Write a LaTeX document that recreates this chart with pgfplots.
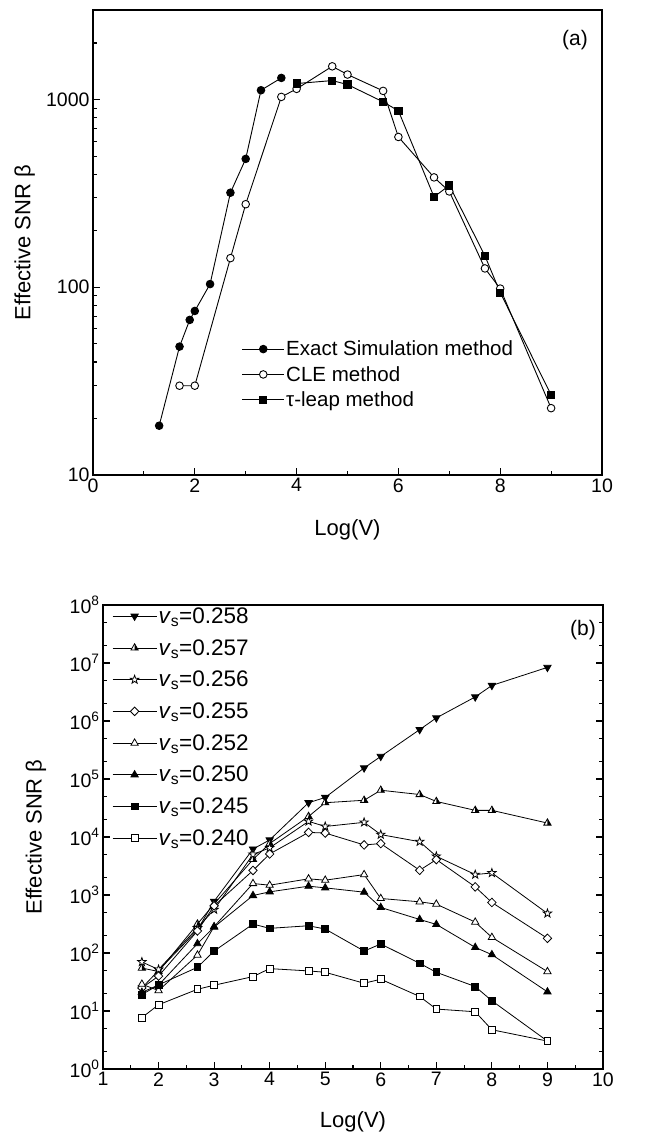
\documentclass[border=0pt]{standalone}
\usepackage{fontspec}
\setmainfont{Liberation Sans}
\usepackage{pgfplots}
\pgfplotsset{compat=1.18}

\pgfdeclareplotmark{ostar}{%
  \pgfpathmoveto{\pgfqpoint{0pt}{\pgfplotmarksize}}%
  \pgfpathlineto{\pgfqpoint{-0.235\pgfplotmarksize}{0.324\pgfplotmarksize}}%
  \pgfpathlineto{\pgfqpoint{-0.951\pgfplotmarksize}{0.309\pgfplotmarksize}}%
  \pgfpathlineto{\pgfqpoint{-0.380\pgfplotmarksize}{-0.124\pgfplotmarksize}}%
  \pgfpathlineto{\pgfqpoint{-0.588\pgfplotmarksize}{-0.809\pgfplotmarksize}}%
  \pgfpathlineto{\pgfqpoint{0pt}{-0.4\pgfplotmarksize}}%
  \pgfpathlineto{\pgfqpoint{0.588\pgfplotmarksize}{-0.809\pgfplotmarksize}}%
  \pgfpathlineto{\pgfqpoint{0.380\pgfplotmarksize}{-0.124\pgfplotmarksize}}%
  \pgfpathlineto{\pgfqpoint{0.951\pgfplotmarksize}{0.309\pgfplotmarksize}}%
  \pgfpathlineto{\pgfqpoint{0.235\pgfplotmarksize}{0.324\pgfplotmarksize}}%
  \pgfpathclose
  \pgfsetfillcolor{white}%
  \pgfusepathqfillstroke
}
\pgfdeclareplotmark{halftri}{%
  \pgfpathmoveto{\pgfqpoint{0pt}{\pgfplotmarksize}}%
  \pgfpathlineto{\pgfqpoint{-0.866\pgfplotmarksize}{-0.5\pgfplotmarksize}}%
  \pgfpathlineto{\pgfqpoint{0.866\pgfplotmarksize}{-0.5\pgfplotmarksize}}%
  \pgfpathclose
  \pgfsetfillcolor{white}%
  \pgfusepathqfillstroke
  \pgfpathmoveto{\pgfqpoint{0pt}{\pgfplotmarksize}}%
  \pgfpathlineto{\pgfqpoint{0pt}{-0.5\pgfplotmarksize}}%
  \pgfpathlineto{\pgfqpoint{0.866\pgfplotmarksize}{-0.5\pgfplotmarksize}}%
  \pgfpathclose
  \pgfsetfillcolor{black}%
  \pgfusepathqfill
}

\begin{document}
\begin{tikzpicture}
\useasboundingbox (0,0) rectangle (664pt,1140pt);

% ---------- panel (a) ----------
\begin{axis}[
  scale only axis, anchor=south west,
  at={(93pt,665pt)}, width=509pt, height=465pt,
  ymode=log,
  xmin=0, xmax=10, ymin=10, ymax=3000,
  axis line style={line width=1.5pt},
  every tick/.style={black, line width=1.1pt},
  major tick length=7pt, minor tick length=4pt,
  tick label style={font=\fontsize{19.5}{21}\selectfont},
  label style={font=\fontsize{22}{24}\selectfont},
  tick pos=left,
  xtick={0,2,4,6,8,10}, xticklabels={0,2,4,6,8,10},
  minor xtick={1,3,5,7,9},
  ytick={10,100,1000}, yticklabels={10,100,1000},
  minor ytick={20,30,40,50,60,70,80,90,200,300,400,500,600,700,800,900,2000,3000},
  xlabel={Log(V)}, ylabel={Effective SNR β},
  xlabel style={at={(axis description cs:0.5,-0.118)}, anchor=center},
  ylabel style={at={(axis description cs:-0.134,0.5)}, anchor=center},
  legend cell align=left,
  legend style={draw=none, fill=none, at={(0.292,0.292)}, anchor=north west,
    font=\fontsize{20.5}{22}\selectfont, row sep=6pt, inner sep=0pt,
    nodes={inner sep=1.5pt}},
  legend image code/.code={\draw[mark repeat=2,mark phase=2] plot coordinates {(0pt,0pt) (21pt,0pt) (42pt,0pt)};},
]
\addplot[black, line width=0.9pt, mark=*, mark size=3.8pt, mark options={fill=black}]
  coordinates {(1.3,18.3) (1.7,48.3) (1.9,67) (2.0,74.8) (2.3,104) (2.7,319) (3.0,483) (3.3,1121) (3.7,1304)};
\addlegendentry{Exact Simulation method}
\addplot[black, line width=0.9pt, mark=*, mark size=3.8pt, mark options={fill=white}]
  coordinates {(1.7,29.9) (2.0,29.9) (2.7,143) (3.0,277) (3.7,1033) (4.0,1140) (4.7,1503) (5.0,1359) (5.7,1112) (6.0,632) (6.7,385) (7.0,324) (7.7,126) (8.0,98.4) (9.0,22.7)};
\addlegendentry{CLE method}
\addplot[black, line width=0.9pt, mark=square*, mark size=3.6pt, mark options={fill=black}]
  coordinates {(4.0,1217) (4.7,1262) (5.0,1202) (5.7,972) (6.0,871) (6.7,303) (7.0,349) (7.7,147) (8.0,93.7) (9.0,26.7)};
\addlegendentry{τ-leap method}
\node[font=\fontsize{21}{23}\selectfont] at (axis description cs:0.947,0.935) {(a)};
\end{axis}

% ---------- panel (b) ----------
\begin{axis}[
  scale only axis, anchor=south west,
  at={(103pt,71pt)}, width=500pt, height=464pt,
  ymode=log,
  xmin=1, xmax=10, ymin=1, ymax=1e8,
  axis line style={line width=1.5pt},
  every tick/.style={black, line width=1.1pt},
  major tick length=7pt, minor tick length=4pt,
  tick label style={font=\fontsize{19.5}{21}\selectfont},
  label style={font=\fontsize{22}{24}\selectfont},
  xtick pos=left, ytick pos=both,
  xtick={1,2,3,4,5,6,7,8,9,10}, xticklabels={1,2,3,4,5,6,7,8,9,10},
  minor xtick={1.5,2.5,3.5,4.5,5.5,6.5,7.5,8.5,9.5},
  ytick={1,10,100,1e3,1e4,1e5,1e6,1e7,1e8},
  yticklabels={\mbox{10\textsuperscript{0}},\mbox{10\textsuperscript{1}},\mbox{10\textsuperscript{2}},\mbox{10\textsuperscript{3}},\mbox{10\textsuperscript{4}},\mbox{10\textsuperscript{5}},\mbox{10\textsuperscript{6}},\mbox{10\textsuperscript{7}},\mbox{10\textsuperscript{8}}},
  minor ytick={2,5,20,50,200,500,2e3,5e3,2e4,5e4,2e5,5e5,2e6,5e6,2e7,5e7},
  xlabel={Log(V)}, ylabel={Effective SNR β},
  xlabel style={at={(axis description cs:0.5,-0.114)}, anchor=center},
  ylabel style={at={(axis description cs:-0.134,0.5)}, anchor=center},
  legend cell align=left,
  legend style={draw=none, fill=none, at={(0.018,0.998)}, anchor=north west,
    font=\fontsize{22.5}{24}\selectfont, row sep=11.5pt, inner sep=0pt,
    nodes={inner sep=1.5pt}},
  legend image code/.code={\draw[mark repeat=2,mark phase=2] plot coordinates {(0pt,0pt) (22pt,0pt) (44pt,0pt)};},
  every axis plot/.append style={black, line width=0.8pt, mark size=4.2pt},
]
\addplot[mark=triangle*, mark options={rotate=180, fill=black}]
  coordinates {(1.7,25) (2.0,50) (2.7,250) (3.0,780) (3.7,6200) (4.0,8900) (4.7,39000) (5.0,48000) (5.7,155000) (6.0,245000) (6.7,710000) (7.0,1130000) (7.7,2600000) (8.0,4100000) (9.0,8400000)};
\addlegendentry{\textit{v}\textsubscript{s}=0.258}
\addplot[mark=halftri]
  coordinates {(1.7,55) (2.0,48) (2.7,316) (3.0,700) (3.7,4100) (4.0,7700) (4.7,22600) (5.0,39000) (5.7,43000) (6.0,64000) (6.7,54000) (7.0,41000) (7.7,28800) (8.0,28800) (9.0,17400)};
\addlegendentry{\textit{v}\textsubscript{s}=0.257}
\addplot[mark=ostar, mark size=4.4pt]
  coordinates {(1.7,70) (2.0,52) (2.7,270) (3.0,560) (3.7,5000) (4.0,6500) (4.7,18600) (5.0,15200) (5.7,17900) (6.0,11000) (6.7,8300) (7.0,4650) (7.7,2250) (8.0,2400) (9.0,481)};
\addlegendentry{\textit{v}\textsubscript{s}=0.256}
\addplot[mark=diamond*, mark size=4.3pt, mark options={fill=white, xscale=1.3}]
  coordinates {(1.7,25) (2.0,40) (2.7,240) (3.0,650) (3.7,2650) (4.0,5100) (4.7,12000) (5.0,11700) (5.7,7300) (6.0,7700) (6.7,2670) (7.0,4080) (7.7,1380) (8.0,743) (9.0,179)};
\addlegendentry{\textit{v}\textsubscript{s}=0.255}
\addplot[mark=triangle*, mark options={fill=white}]
  coordinates {(1.7,29) (2.0,22.5) (2.7,92) (3.0,285) (3.7,1577) (4.0,1476) (4.7,1900) (5.0,1800) (5.7,2250) (6.0,871) (6.7,763) (7.0,696) (7.7,341) (8.0,186) (9.0,47.8)};
\addlegendentry{\textit{v}\textsubscript{s}=0.252}
\addplot[mark=triangle*, mark options={fill=black}]
  coordinates {(1.7,21) (2.0,28) (2.7,145) (3.0,280) (3.7,980) (4.0,1133) (4.7,1420) (5.0,1327) (5.7,1119) (6.0,610) (6.7,379) (7.0,311) (7.7,125) (8.0,93.6) (9.0,21.4)};
\addlegendentry{\textit{v}\textsubscript{s}=0.250}
\addplot[mark=square*, mark size=3.4pt, mark options={fill=black}]
  coordinates {(1.7,19.2) (2.0,28.2) (2.7,56.7) (3.0,108) (3.7,315) (4.0,266) (4.7,295) (5.0,259) (5.7,108) (6.0,143) (6.7,66.4) (7.0,46.5) (7.7,26.4) (8.0,15) (9.0,3.03)};
\addlegendentry{\textit{v}\textsubscript{s}=0.245}
\addplot[mark=square*, mark size=3.4pt, mark options={fill=white}]
  coordinates {(1.7,7.7) (2.0,12.8) (2.7,23.7) (3.0,27.8) (3.7,39.2) (4.0,53.8) (4.7,49.1) (5.0,46.5) (5.7,30.1) (6.0,35.3) (6.7,17.8) (7.0,10.8) (7.7,9.7) (8.0,4.75) (9.0,3.03)};
\addlegendentry{\textit{v}\textsubscript{s}=0.240}
\node[font=\fontsize{21}{23}\selectfont] at (axis description cs:0.96,0.946) {(b)};
\end{axis}
\end{tikzpicture}
\end{document}
